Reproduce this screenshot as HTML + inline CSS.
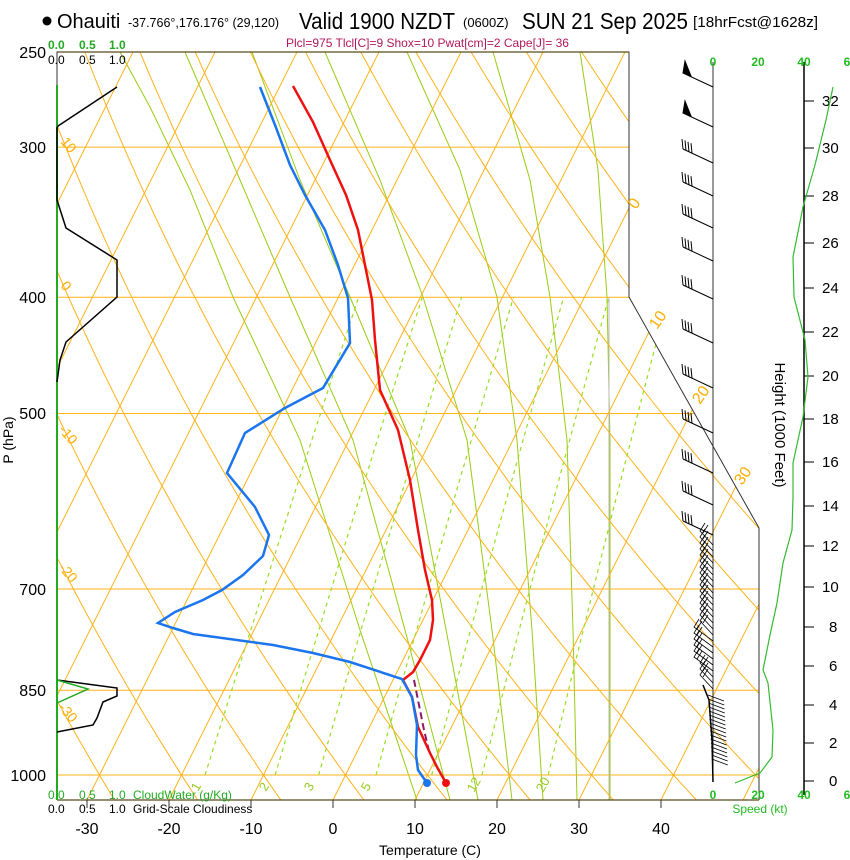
<!DOCTYPE html>
<html><head><meta charset="utf-8"><style>
html,body{margin:0;padding:0;background:#fff;}
svg{display:block;font-family:"Liberation Sans",sans-serif;}
</style></head><body>
<svg id="s" width="850" height="860" viewBox="0 0 850 860" xmlns="http://www.w3.org/2000/svg">
<defs><clipPath id="cp"><polygon points="57,52 629,52 629,297 759,528 759,800 57,800"/></clipPath></defs>
<g id="grid" clip-path="url(#cp)">
<g fill="none" stroke="#99cc11" stroke-width="1">
<polyline points="417,800 360,630 300,440 233,297 190,190 150,107 120,52"/>
<polyline points="450,800 405,630 353,440 290,297 240,180 185,52"/>
<polyline points="478,800 448,640 410,440 350,297 300,180 252,52"/>
<polyline points="512,800 492,630 467,440 423,297 380,180 325,52"/>
<polyline points="543,800 532,630 517,440 497,297 460,170 407,52"/>
<polyline points="577,800 573,630 567,440 550,297 530,180 493,52"/>
<polyline points="610,800 610,620 610,440 607,297 598,170 580,52"/>
</g>
</g>
<g id="data"></g>
<polyline points="57,800 57,52 629,52 629,297 759,528 759,800" fill="none" stroke="#333" stroke-width="1"/>
<line x1="57" y1="52" x2="629" y2="52" stroke="#5a4a1a" stroke-width="1.2"/>
<line x1="57" y1="800" x2="759" y2="800" stroke="#5a4a1a" stroke-width="1.2"/>
<g stroke="#333" stroke-width="1">
<line x1="87" y1="800" x2="87" y2="808"/><line x1="169" y1="800" x2="169" y2="808"/><line x1="251" y1="800" x2="251" y2="808"/><line x1="333" y1="800" x2="333" y2="808"/><line x1="415" y1="800" x2="415" y2="808"/><line x1="497" y1="800" x2="497" y2="808"/><line x1="579" y1="800" x2="579" y2="808"/><line x1="661" y1="800" x2="661" y2="808"/>
</g>
<line x1="57" y1="85" x2="57" y2="800" stroke="#22aa22" stroke-width="2"/>
<polyline points="117,87 58,126 57,128 57,200 66,228 117,260 117,297 66,342 60,360 57,382" fill="none" stroke="#000" stroke-width="1.5"/>
<polyline points="57,680 117,688 117,696 103,702 97,718 93,725 57,732" fill="none" stroke="#000" stroke-width="1.5"/>
<polyline points="57,680 88,689 57,703" fill="none" stroke="#22aa22" stroke-width="1.5"/>
<circle cx="47" cy="21" r="4.5" fill="#000"/>
<text x="57" y="28" font-size="20">Ohauiti</text>
<text x="128" y="27" font-size="12.5">-37.766°,176.176° (29,120)</text>
<text x="299" y="29" font-size="23" textLength="156" lengthAdjust="spacingAndGlyphs">Valid 1900 NZDT</text>
<text x="463" y="27" font-size="13">(0600Z)</text>
<text x="522" y="29" font-size="23" textLength="166" lengthAdjust="spacingAndGlyphs">SUN 21 Sep 2025</text>
<text x="693" y="27" font-size="15" textLength="125" lengthAdjust="spacingAndGlyphs">[18hrFcst@1628z]</text>
<text x="286" y="47" font-size="12" fill="#b0185a">Plcl=975 Tlcl[C]=9 Shox=10 Pwat[cm]=2 Cape[J]= 36</text>
<g font-size="12" fill="#22aa22" font-weight="bold"><text x="48" y="49">0.0</text><text x="79" y="49">0.5</text><text x="109" y="49">1.0</text></g>
<g font-size="12"><text x="48" y="64">0.0</text><text x="79" y="64">0.5</text><text x="109" y="64">1.0</text></g>
<g font-size="12" fill="#22aa22"><text x="48" y="799">0.0</text><text x="79" y="799">0.5</text><text x="109" y="799">1.0</text><text x="133" y="799">CloudWater (g/Kg)</text></g>
<g font-size="12"><text x="48" y="813">0.0</text><text x="79" y="813">0.5</text><text x="109" y="813">1.0</text><text x="133" y="813">Grid-Scale Cloudiness</text></g>
<g font-size="16" text-anchor="end"><text x="46" y="58">250</text><text x="46" y="153">300</text><text x="46" y="303">400</text><text x="46" y="419">500</text><text x="46" y="595">700</text><text x="46" y="696">850</text><text x="46" y="781">1000</text></g>
<text transform="translate(13,440) rotate(-90)" font-size="14" text-anchor="middle">P (hPa)</text>
<g font-size="16" text-anchor="middle"><text x="87" y="834">-30</text><text x="169" y="834">-20</text><text x="251" y="834">-10</text><text x="333" y="834">0</text><text x="415" y="834">10</text><text x="497" y="834">20</text><text x="579" y="834">30</text><text x="661" y="834">40</text></g>
<text x="430" y="855" font-size="14" text-anchor="middle">Temperature (C)</text>
<g font-size="14" fill="#ffad00">
<text transform="translate(60,142) rotate(50)">10</text>
<text transform="translate(60,286) rotate(50)">0</text>
<text transform="translate(58,430) rotate(50)">-10</text>
<text transform="translate(58,568) rotate(50)">-20</text>
<text transform="translate(58,708) rotate(50)">-30</text>
<text transform="translate(636,210) rotate(-55)" font-size="16">0</text>
<text transform="translate(657,330) rotate(-55)" font-size="16">10</text>
<text transform="translate(700,405) rotate(-55)" font-size="16">20</text>
<text transform="translate(742,486) rotate(-55)" font-size="16">30</text>
</g>
<g font-size="13" fill="#99cc22">
<text transform="translate(198,792) rotate(-60)">1</text>
<text transform="translate(266,792) rotate(-60)">2</text>
<text transform="translate(311,792) rotate(-60)">3</text>
<text transform="translate(368,792) rotate(-60)">5</text>
<text transform="translate(474,793) rotate(-60)">12</text>
<text transform="translate(543,793) rotate(-60)">20</text>
</g>
<line x1="713" y1="62" x2="713" y2="782" stroke="#333" stroke-width="1"/>
<line x1="804" y1="62" x2="804" y2="795" stroke="#000" stroke-width="1.5"/>
<g id="hticks"></g>
<g font-size="12" fill="#22bb22" font-weight="bold" text-anchor="middle"><text x="713" y="66">0</text><text x="758" y="66">20</text><text x="804" y="66">40</text><text x="847" y="66">6</text>
<text x="713" y="799">0</text><text x="758" y="799">20</text><text x="804" y="799">40</text><text x="847" y="799">6</text></g>
<text x="760" y="813" font-size="12" fill="#22bb22" text-anchor="middle">Speed (kt)</text>
<text transform="translate(775,425) rotate(90)" font-size="15" text-anchor="middle">Height (1000 Feet)</text>
<g font-size="15" id="hlab"><text x="822" y="106">32</text><text x="822" y="153">30</text><text x="822" y="201">28</text><text x="822" y="248">26</text><text x="822" y="293">24</text><text x="822" y="337">22</text><text x="822" y="381">20</text><text x="822" y="424">18</text><text x="822" y="467">16</text><text x="822" y="511">14</text><text x="822" y="551">12</text><text x="822" y="592">10</text><text x="829" y="632">8</text><text x="829" y="671">6</text><text x="829" y="710">4</text><text x="829" y="748">2</text><text x="829" y="786">0</text></g>
<polyline points="833,87 826,120 815,165 803,207 793,257 794,297 805,340 808,377 803,417 793,463 793,497 792,530 783,563 777,603 770,635 765,660 763,670 768,683 773,730 772,757 760,773 735,783" fill="none" stroke="#33bb33" stroke-width="1.2"/>
<g id="barbs" stroke="#000" fill="none" stroke-width="1"></g>
<script>
var NS="http://www.w3.org/2000/svg";
function Y(p){return 775-521.5*Math.log(1000/p);}
function X(T,p){return 333+8.2*T+0.5*(800-Y(p));}
function path(g,d,attrs){var e=document.createElementNS(NS,"path");e.setAttribute("d",d);e.setAttribute("fill","none");for(var k in attrs)e.setAttribute(k,attrs[k]);g.appendChild(e);}
var G=document.getElementById("grid");
var OR="#ffb21a";
[300,400,500,700,850,1000].forEach(function(p){var y=Y(p).toFixed(1);path(G,"M57 "+y+"L760 "+y,{stroke:OR,"stroke-width":1});});
path(G,"M609 297L609 800",{stroke:"#bbb","stroke-width":1});
for(var T=-120;T<=60;T+=10){path(G,"M"+X(T,1050).toFixed(1)+" "+Y(1050).toFixed(1)+"L"+X(T,240).toFixed(1)+" "+Y(240).toFixed(1),{stroke:OR,"stroke-width":1});}
for(var th=-50;th<=200;th+=10){var d="";for(var p=1060;p>=240;p-=10){var t=(th+273.15)*Math.pow(p/1000,0.2857)-273.15;d+=(d?"L":"M")+X(t,p).toFixed(1)+" "+Y(p).toFixed(1);}path(G,d,{stroke:OR,"stroke-width":1});}
[1,2,3,5,8,12,20].forEach(function(w){var d="";for(var p=1000;p>=400;p-=25){var e=w*p/(622+w),l=Math.log(e/6.112),td=243.5*l/(17.67-l);d+=(d?"L":"M")+X(td,p).toFixed(1)+" "+Y(p).toFixed(1);}path(G,d,{stroke:"#99dd22","stroke-width":1.2,"stroke-dasharray":"4,4"});});
var D=document.getElementById("data");
path(D,"M414 680L419 705L424 730L430 755",{stroke:"#8b1a6b","stroke-width":2,"stroke-dasharray":"7,4"});
path(D,"M446 783L437 767L430 753L418 727L412 697L403 680L413 672L420 660L430 640L433 620L432 600L425 570L418 530L410 480L398 430L380 390L378 370L375 340L372 300L366 270L358 230L346 195L330 160L313 122L293 86",{stroke:"#ee1111","stroke-width":2.5});
path(D,"M427 783L418 770L416 755L417 725L412 697L402 679L350 662L313 653L273 645L193 634L173 628L158 623L175 612L203 600L222 590L243 575L263 556L269 535L255 507L227 473L245 433L285 408L323 388L350 343L348 298L338 265L325 230L305 195L290 165L275 125L260 87",{stroke:"#1a75ee","stroke-width":2.5});
var c=document.createElementNS(NS,"circle");c.setAttribute("cx",446);c.setAttribute("cy",783);c.setAttribute("r",4);c.setAttribute("fill","#ee1111");D.appendChild(c);
c=document.createElementNS(NS,"circle");c.setAttribute("cx",427);c.setAttribute("cy",783);c.setAttribute("r",4);c.setAttribute("fill","#1a75ee");D.appendChild(c);
var H=document.getElementById("hticks");
document.querySelectorAll("#hlab text").forEach(function(t){var y=+t.getAttribute("y")-5;path(H,"M804 "+y+"L814 "+y,{stroke:"#000","stroke-width":1});});
var B=document.getElementById("barbs");
[[87,1],[127,1],[163,0],[196,0],[228,0],[261,0],[299,0],[343,0],[388,0],[433,0],[473,0],[505,0],[535,0]].forEach(function(a){var y=a[0];var tx=683,ty=y-14;var d="M713 "+y+"L"+tx+" "+ty;if(a[1]){d+="M"+tx+" "+ty+"L"+(tx+2)+" "+(ty-12)+"L"+(tx+8)+" "+(ty+3)+"Z";}else{for(var i=0;i<4;i++){var bx=tx+i*3,by=ty+i*1.4;d+="M"+bx+" "+by+"L"+(bx-1)+" "+(by-10);}}path(B,d,{stroke:"#000","stroke-width":1,fill:a[1]?"#000":"none"});});
for(var y=545;y<=690;y+=6){var tx=(y>640&&y<675)?694:700;var ty=y-14;var d="M713 "+y+"L"+tx+" "+ty+"L"+(tx+5)+" "+(ty-8)+"M"+(tx+3)+" "+(ty+2)+"L"+(tx+8)+" "+(ty-6);path(B,d,{stroke:"#000","stroke-width":0.8});}
for(var y=695;y<=760;y+=4){var sx=708+(y-695)*0.06;var d="M"+sx.toFixed(1)+" "+y+"L"+(sx+16).toFixed(1)+" "+(y+6);path(B,d,{stroke:"#000","stroke-width":0.8});}
path(B,"M713 782L712 740L709 700L703 685",{stroke:"#000","stroke-width":1.5});
</script>
</svg>
</body></html>
